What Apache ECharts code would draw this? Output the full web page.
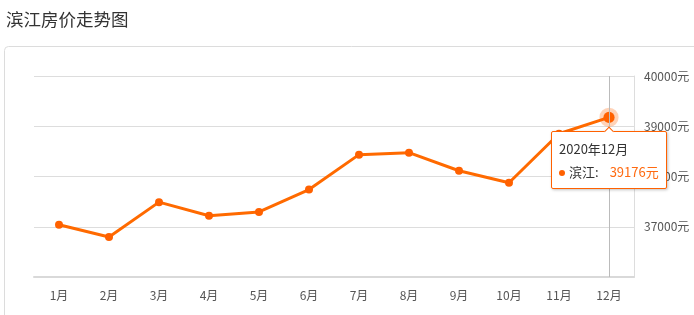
<!DOCTYPE html>
<html>
<head>
<meta charset="utf-8">
<script src="https://cdn.jsdelivr.net/npm/echarts@6/dist/echarts.min.js"></script>
<style>
html,body{margin:0;padding:0;background:#fff;}
#c{width:694px;height:315px;}
</style>
</head>
<body>
<div id="c"></div>
<script>
const titleText = '滨江房价走势图';
const categories = ['1月','2月','3月','4月','5月','6月','7月','8月','9月','10月','11月','12月'];
const prices = [37040, 36795, 37490, 37220, 37295, 37740, 38435, 38475, 38115, 37875, 38850, 39176];
const seriesName = '滨江';
const tipTitle = '2020年12月';
const unit = '元';
const yMin = 36000, yMax = 40000, yStep = 1000;
const focusIndex = 11;

const orange = '#ff6100';
const chart = echarts.init(document.getElementById('c'));
chart.setOption({
  animation: false,
  textStyle: {fontFamily: '"Noto Sans CJK SC", "Noto Sans", sans-serif'},
  title: {
    text: titleText, left: 1, top: 6,
    textStyle: {fontSize: 17.5, fontWeight: 'normal', color: '#333'}
  },
  graphic: [{
    type: 'rect', silent: true, z: -10,
    shape: {x: 4.5, y: 46.5, width: 800, height: 400, r: 4},
    style: {fill: 'none', stroke: '#dcdcdc', lineWidth: 1}
  }],
  grid: {left: 34, right: 60, top: 76, bottom: 38},
  tooltip: {
    trigger: 'item',
    alwaysShowContent: true,
    backgroundColor: '#fff',
    borderColor: orange,
    borderWidth: 1,
    padding: [5, 7, 5, 7],
    extraCssText: 'box-shadow:1px 1px 3px rgba(0,0,0,0.25);border-radius:2px;',
    formatter: function (p) {
      return '<div style="font-size:13px;color:#333;line-height:23px;font-family:\'Noto Sans CJK SC\',sans-serif;white-space:nowrap">' +
        '<div>' + tipTitle + '</div>' +
        '<div><span style="display:inline-block;width:6px;height:6px;border-radius:3px;background:' + orange + ';margin-right:4px;vertical-align:middle"></span>' +
        p.seriesName + ':<span style="color:#ff6a10;margin-left:11px">' + p.value + unit + '</span></div></div>';
    }
  },
  xAxis: {
    type: 'category',
    data: categories,
    axisLine: {lineStyle: {color: '#d9d9d9', width: 2}},
    axisTick: {alignWithLabel: true, length: 5, lineStyle: {color: '#d9d9d9'}},
    axisLabel: {color: '#555', fontSize: 12, margin: 12}
  },
  yAxis: {
    type: 'value', position: 'right',
    min: yMin, max: yMax, interval: yStep,
    axisLine: {show: true, lineStyle: {color: '#dddddd', width: 1}},
    axisTick: {show: false},
    splitLine: {lineStyle: {color: '#dddddd'}},
    axisLabel: {
      color: '#555', fontSize: 12, margin: 10,
      formatter: function (v) { return v === yMin ? '' : v + unit; }
    }
  },
  series: [{
    name: seriesName,
    type: 'line',
    data: prices,
    symbol: 'circle',
    symbolSize: 8,
    itemStyle: {color: orange},
    lineStyle: {color: orange, width: 3},
    emphasis: {
      scale: 1.4,
      lineStyle: {width: 3},
      itemStyle: {color: orange, borderColor: 'rgba(255,97,0,0.28)', borderWidth: 8}
    },
    markLine: {
      silent: true, symbol: 'none', animation: false,
      label: {show: false},
      lineStyle: {color: '#bbbbbb', type: 'solid', width: 1},
      emphasis: {disabled: true},
      data: [{xAxis: focusIndex}]
    }
  }]
});
chart.dispatchAction({type: 'highlight', seriesIndex: 0, dataIndex: focusIndex});
chart.dispatchAction({type: 'showTip', seriesIndex: 0, dataIndex: focusIndex, position: 'bottom'});
</script>
</body>
</html>
